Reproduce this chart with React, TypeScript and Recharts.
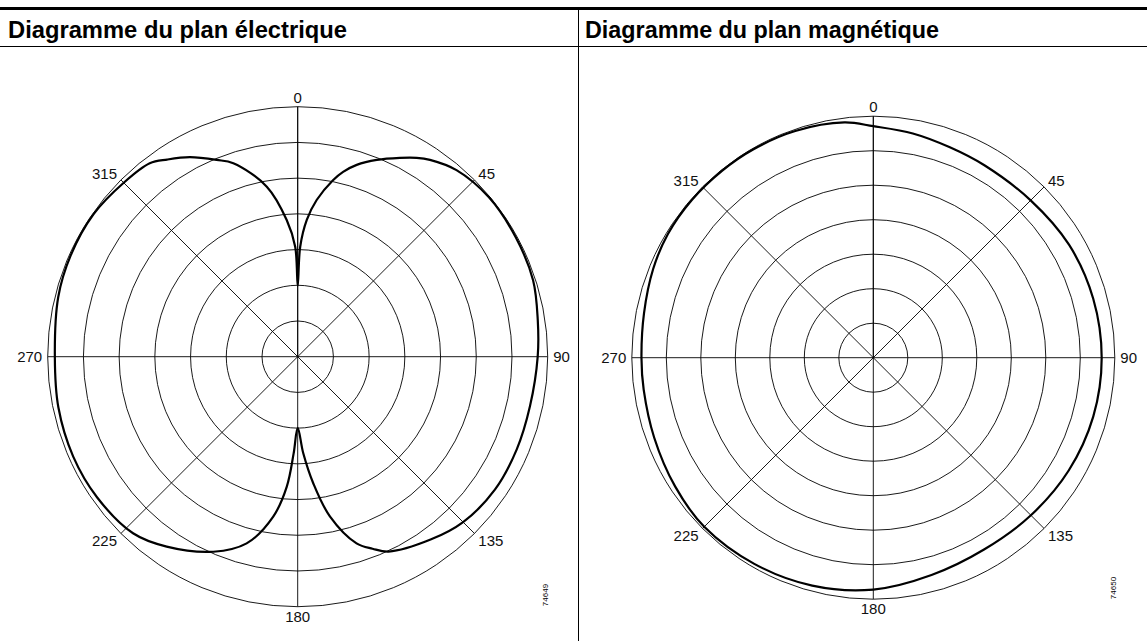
import { RadarChart, Radar, PolarGrid, PolarAngleAxis, PolarRadiusAxis } from 'recharts';

// angle in degrees (0 = top, clockwise), radius in ring units (7 rings)
const electricAngles = [
  0, 1.3, 3.8, 6.9, 11.3, 13.8, 17.1, 21.9, 27.2, 30.9, 33.9, 40.4, 50.2, 61.3, 72, 81.3, 90,
  102, 113, 124, 135, 144, 155, 158.7, 162.5, 168.6, 173, 176.7, 180,
  182.4, 184.8, 188.7, 195.3, 203.4, 214.6, 223, 235, 246, 258, 270,
  284, 294, 305, 315, 322.6, 326.5, 331.6, 337.6, 341.6, 349.7, 355.4, 358.7,
];
const electricRadii = [
  1.99, 3.08, 3.84, 4.42, 5.04, 5.33, 5.62, 5.94, 6.26, 6.49, 6.64, 6.86, 6.97, 6.96, 6.93, 6.8, 6.72,
  6.65, 6.66, 6.66, 6.55, 6.33, 6.02, 5.77, 5.48, 4.56, 3.57, 2.71, 1.99,
  2.71, 3.65, 4.53, 5.42, 5.95, 6.46, 6.76, 6.86, 6.88, 6.85, 6.8,
  6.91, 6.96, 6.97, 6.89, 6.82, 6.62, 6.35, 5.96, 5.71, 4.84, 3.84, 3.08,
];

const magneticAngles = [
  0, 10, 20, 30, 45, 60, 75, 90, 105, 120, 135, 150, 165, 180,
  195, 210, 225, 237, 250, 262, 270, 281, 292, 301, 311, 321, 330, 341, 353,
];
const magneticRadii = [
  6.71, 6.6, 6.49, 6.44, 6.45, 6.55, 6.6, 6.62, 6.6, 6.54, 6.46, 6.42, 6.52, 6.72,
  6.84, 6.9, 6.93, 6.85, 6.76, 6.72, 6.72, 6.77, 6.88, 6.95, 6.97, 6.97, 6.97, 6.95, 6.87,
];

const angleTicks = [0, 45, 90, 135, 180, 225, 270, 315];
const ringCount = 7;

const electricData = electricAngles.map((a, i) => ({ angle: a, r: electricRadii[i] }));
const magneticData = magneticAngles.map((a, i) => ({ angle: a, r: magneticRadii[i] }));

const titleFont = "'Liberation Sans', Arial, Helvetica, sans-serif";
const labelFont = "'Liberation Sans', Arial, Helvetica, sans-serif";

// x, y arrive 8px outside the outer ring; nudge to where the reference puts its labels
function AngleTick(props: any) {
  const { x, y, payload, textAnchor } = props;
  if (!angleTicks.includes(payload.value)) return null;
  const rad = (payload.value * Math.PI) / 180;
  const ux = Math.sin(rad);
  const uy = -Math.cos(rad);
  return (
    <text
      x={x - ux * 2.5}
      y={y + uy * 1.4}
      dy="0.36em"
      textAnchor={textAnchor}
      fontSize={15}
      fontFamily={labelFont}
      fill="#111"
    >
      {payload.value}
    </text>
  );
}

// smooth closed curve (centripetal Catmull-Rom) through the points placed by the radar scales
function SmoothOutline(props: any) {
  const pts: { x: number; y: number }[] = props.points || [];
  const n = pts.length;
  if (!n) return null;
  const dist = (a: { x: number; y: number }, b: { x: number; y: number }) =>
    Math.sqrt(Math.hypot(a.x - b.x, a.y - b.y));
  let d = `M${pts[0].x},${pts[0].y}`;
  for (let i = 0; i < n; i++) {
    const p0 = pts[(i - 1 + n) % n];
    const p1 = pts[i];
    const p2 = pts[(i + 1) % n];
    const p3 = pts[(i + 2) % n];
    const l01 = dist(p0, p1);
    const l12 = dist(p1, p2);
    const l23 = dist(p2, p3);
    let c1x = p1.x;
    let c1y = p1.y;
    let c2x = p2.x;
    let c2y = p2.y;
    if (l01 > 1e-6) {
      const a = 2 * l01 * l01 + 3 * l01 * l12 + l12 * l12;
      const m = 3 * l01 * (l01 + l12);
      c1x = (p1.x * a - p0.x * l12 * l12 + p2.x * l01 * l01) / m;
      c1y = (p1.y * a - p0.y * l12 * l12 + p2.y * l01 * l01) / m;
    }
    if (l23 > 1e-6) {
      const b = 2 * l23 * l23 + 3 * l23 * l12 + l12 * l12;
      const m = 3 * l23 * (l23 + l12);
      c2x = (p2.x * b + p1.x * l23 * l23 - p3.x * l12 * l12) / m;
      c2y = (p2.y * b + p1.y * l23 * l23 - p3.y * l12 * l12) / m;
    }
    d += `C${c1x},${c1y},${c2x},${c2y},${p2.x},${p2.y}`;
  }
  return <path d={d + 'Z'} fill="none" stroke="#000" strokeWidth={2.2} strokeLinejoin="round" />;
}

interface PatternProps {
  data: { angle: number; r: number }[];
  width: number;
  cx: number;
  cy: number;
  radius: number;
}

function Pattern({ data, width, cx, cy, radius }: PatternProps) {
  return (
    <RadarChart
      width={width}
      height={641}
      data={data}
      cx={cx}
      cy={cy}
      outerRadius={radius}
      margin={{ top: 0, right: 0, bottom: 0, left: 0 }}
    >
      <PolarGrid gridType="circle" stroke="#000" strokeWidth={0.9} />
      <PolarAngleAxis
        type="number"
        dataKey="angle"
        domain={[0, 360]}
        tickCount={9}
        tickLine={false}
        axisLine={false}
        tick={AngleTick}
      />
      <PolarRadiusAxis type="number" domain={[0, ringCount]} tickCount={ringCount + 1} tick={false} axisLine={false} />
      <Radar
        dataKey="r"
        stroke="#000"
        strokeWidth={2.2}
        fill="none"
        fillOpacity={0}
        dot={false}
        shape={SmoothOutline}
        isAnimationActive={false}
      />
    </RadarChart>
  );
}

export default function App() {
  return (
    <div style={{ position: 'absolute', left: 0, top: 0, width: 1147, height: 641, background: '#fff', overflow: 'hidden' }}>
      <svg width={1147} height={50} style={{ position: 'absolute', left: 0, top: 0 }}>
        <rect x={0} y={7} width={1147} height={3} fill="#000" />
        <rect x={0} y={46} width={1147} height={1} fill="#000" />
        <text x={8} y={38} fontFamily={titleFont} fontWeight="bold" fontSize={24} textLength={339} lengthAdjust="spacingAndGlyphs">
          Diagramme du plan électrique
        </text>
        <text x={585} y={38} fontFamily={titleFont} fontWeight="bold" fontSize={24} textLength={354} lengthAdjust="spacingAndGlyphs">
          Diagramme du plan magnétique
        </text>
      </svg>
      <div style={{ position: 'absolute', left: 578, top: 10, width: 1, height: 631, background: '#000' }} />

      <div style={{ position: 'absolute', left: 0, top: 0 }}>
        <Pattern data={electricData} width={578} cx={297.7} cy={356.7} radius={250} />
      </div>
      <div style={{ position: 'absolute', left: 580, top: 0 }}>
        <Pattern data={magneticData} width={567} cx={293.3} cy={357.7} radius={241.5} />
      </div>

      <div style={{ position: 'absolute', left: 545, top: 595, transform: 'translate(-50%, -50%) rotate(-90deg)', fontFamily: labelFont, fontSize: 8, whiteSpace: 'nowrap' }}>
        74649
      </div>
      <div style={{ position: 'absolute', left: 1113, top: 588, transform: 'translate(-50%, -50%) rotate(-90deg)', fontFamily: labelFont, fontSize: 8, whiteSpace: 'nowrap' }}>
        74650
      </div>
    </div>
  );
}
